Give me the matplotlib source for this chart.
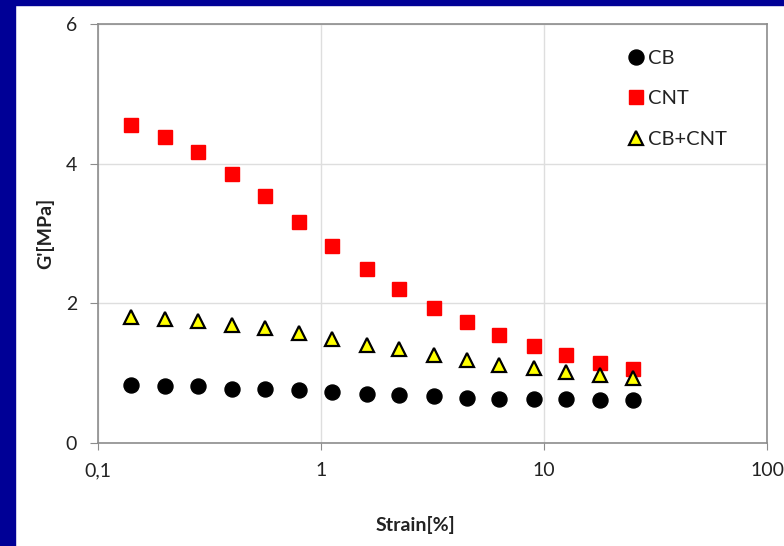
import matplotlib
matplotlib.use("Agg")
import matplotlib.pyplot as plt
from matplotlib.patches import Rectangle
from matplotlib.ticker import FixedLocator, NullLocator

strain = [0.14, 0.2, 0.28, 0.4, 0.56, 0.8, 1.12, 1.6, 2.24, 3.2, 4.5, 6.3, 9.0, 12.6, 17.8, 25.0]
g_cb = [0.83, 0.82, 0.81, 0.78, 0.77, 0.76, 0.73, 0.70, 0.69, 0.67, 0.65, 0.63, 0.63, 0.63, 0.62, 0.62]
g_cnt = [4.55, 4.38, 4.16, 3.85, 3.53, 3.16, 2.82, 2.49, 2.21, 1.94, 1.73, 1.54, 1.39, 1.26, 1.15, 1.06]
g_cbcnt = [1.80, 1.77, 1.74, 1.69, 1.64, 1.57, 1.49, 1.41, 1.34, 1.26, 1.19, 1.12, 1.07, 1.02, 0.97, 0.93]

xticks = [0.1, 1, 10, 100]
xticklabels = ["0,1", "1", "10", "100"]
yticks = [0, 2, 4, 6]

plt.rcParams['font.family'] = ['Lato', 'DejaVu Sans']

fig = plt.figure(figsize=(7.84, 5.46), dpi=100)
fig.patch.set_facecolor('white')
navy = '#000096'
fig.patches.append(Rectangle((0, 0), 15/784, 1, transform=fig.transFigure, color=navy, zorder=0))
fig.patches.append(Rectangle((0, 1-5/546), 1, 5/546, transform=fig.transFigure, color=navy, zorder=0))

ax = fig.add_axes([98/784, 1-443/546, (767-98)/784, (443-24)/546])
ax.set_xscale('log')
ax.set_xlim(0.1, 100)
ax.set_ylim(0, 6)

ax.xaxis.set_major_locator(FixedLocator(xticks))
ax.xaxis.set_minor_locator(NullLocator())
ax.set_xticks(xticks)
ax.set_xticklabels(xticklabels)
ax.set_yticks(yticks)
ax.grid(True, color='#dedede', linewidth=1)
ax.set_axisbelow(True)

for s in ax.spines.values():
    s.set_color('#8c8c8c')
    s.set_linewidth(1.2)

ax.tick_params(axis='both', direction='out', color='#8c8c8c', labelsize=14, labelcolor='#222222')
ax.tick_params(axis='y', length=6, pad=9)
ax.tick_params(axis='x', length=5, pad=9)

ax.plot(strain, g_cb, linestyle='none', marker='o', markersize=10.8, color='black', label='CB', zorder=3)
ax.plot(strain, g_cnt, linestyle='none', marker='s', markersize=10.4, color='#ff0000', label='CNT', zorder=3)
ax.plot(strain, g_cbcnt, linestyle='none', marker='^', markersize=10.5, markerfacecolor='#ffff00',
        markeredgecolor='black', markeredgewidth=1.6, label='CB+CNT', zorder=4)

ax.set_xlabel('Strain[%]', fontsize=14, fontweight='bold', color='#222222')
ax.set_ylabel("G'[MPa]", fontsize=14, fontweight='bold', color='#222222')
ax.xaxis.set_label_coords(0.475, -0.175)
ax.yaxis.set_label_coords(-0.065, 0.5)

leg = ax.legend(loc='upper left', bbox_to_anchor=(0.777, 0.957), frameon=False, fontsize=14.5,
                handletextpad=0.1, labelspacing=1.15, handlelength=1.0, borderaxespad=0)
for t in leg.get_texts():
    t.set_color('#222222')

fig.savefig('out.png', dpi=100, facecolor='white')
